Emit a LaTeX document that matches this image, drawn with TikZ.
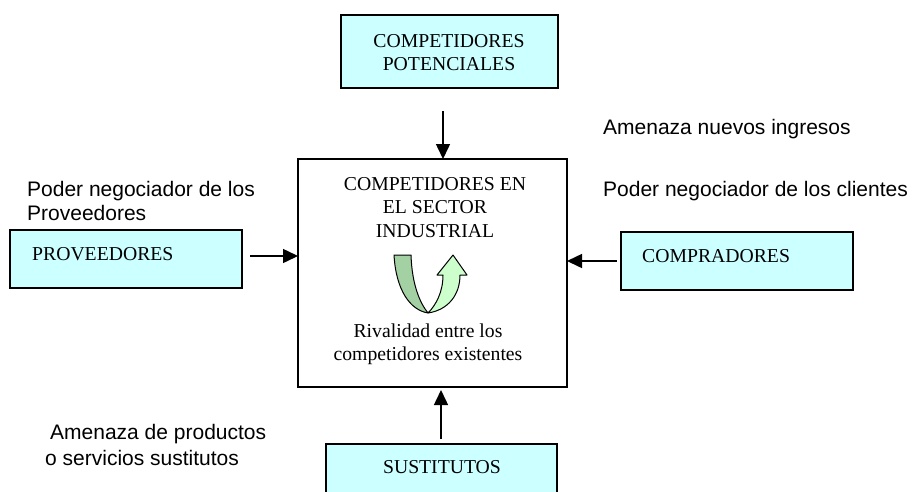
\documentclass[tikz,border=0pt]{standalone}
\usepackage{fontspec}
\setmainfont{Liberation Serif}
\newfontfamily\arialf{Liberation Sans}
\usetikzlibrary{arrows.meta}
\definecolor{boxcyan}{HTML}{CCFFFF}
\definecolor{darkgr}{HTML}{A3D1A3}
\definecolor{lightgr}{HTML}{CCFFCC}
\begin{document}
\begin{tikzpicture}[x=1pt,y=-1pt,
  box/.style={draw, line width=1.3pt, anchor=north west, inner sep=0pt, outer sep=0pt},
  cbox/.style={box, fill=boxcyan},
  serif/.style={inner sep=0pt, font=\fontsize{19.7}{23.5}\selectfont},
  sans/.style={inner sep=0pt, anchor=base west, font=\arialf\fontsize{21}{24}\selectfont},
  arr/.style={line width=1.5pt, -{Triangle[length=15pt,width=14pt]}},
  ribbon/.style={draw, line width=1pt, line join=round}
]
\useasboundingbox (0,0) rectangle (912,491);
\clip (0,0) rectangle (912,491);
\fill[white] (0,0) rectangle (912,491);

% boxes
\node[cbox, minimum width=217pt, minimum height=73pt] (pot) at (341,15) {};
\node[box, fill=white, minimum width=269pt, minimum height=228pt] (core) at (298,159) {};
\node[cbox, minimum width=232pt, minimum height=58pt] (prov) at (10,230) {};
\node[cbox, minimum width=232pt, minimum height=58pt] (comp) at (621,232) {};
\node[cbox, minimum width=231pt, minimum height=60pt] (sust) at (326,444) {};

% box texts
\node[serif, anchor=base] (potA) at (449,47) {COMPETIDORES};
\node[serif, anchor=base] (potB) at (449,70) {POTENCIALES};
\node[serif, anchor=base] (coreA) at (435,190) {COMPETIDORES EN};
\node[serif, anchor=base] (coreB) at (435,213) {EL SECTOR};
\node[serif, anchor=base] (coreC) at (435,237) {INDUSTRIAL};
\node[serif, anchor=base] (rivA) at (428,337) {Rivalidad entre los};
\node[serif, anchor=base] (rivB) at (428,360) {competidores existentes};
\node[serif, anchor=base west] (provT) at (32,260) {PROVEEDORES};
\node[serif, anchor=base west] (compT) at (642,262) {COMPRADORES};
\node[serif, anchor=base] (sustT) at (442,473) {SUSTITUTOS};

% arrows
\coordinate (tA) at (443,111);
\draw[arr] (tA) -- (tA |- core.north);
\coordinate (lA) at (250,256);
\draw[arr] (lA) -- (lA -| core.west);
\coordinate (rA) at (617,261);
\draw[arr] (rA) -- (rA -| core.east);
\coordinate (bA) at (441,439);
\coordinate (bB) at (441,390);
\draw[arr] (bA) -- (bB);

% U-turn arrow
\draw[ribbon, fill=darkgr] (394,255) .. controls (396,290) and (410,310) .. (428,313)
  .. controls (420,303) and (412,285) .. (411,255) -- cycle;
\draw[ribbon, fill=lightgr] (428,313) .. controls (448,310) and (460,295) .. (460,275)
  -- (467,275) -- (453,255) -- (437,275) -- (443,275)
  .. controls (443,292) and (436,305) .. (428,313) -- cycle;

% labels
\node[sans] (ani) at (603,134) {Amenaza nuevos ingresos};
\node[sans] (pnc) at (603,196) {Poder negociador de los clientes};
\node[sans] (pnp1) at (27,196) {Poder negociador de los};
\node[sans] (pnp2) at (27,220) {Proveedores};
\node[sans] (amp1) at (50,439) {Amenaza de productos};
\node[sans] (amp2) at (45,465) {o servicios sustitutos};
\end{tikzpicture}
\end{document}
